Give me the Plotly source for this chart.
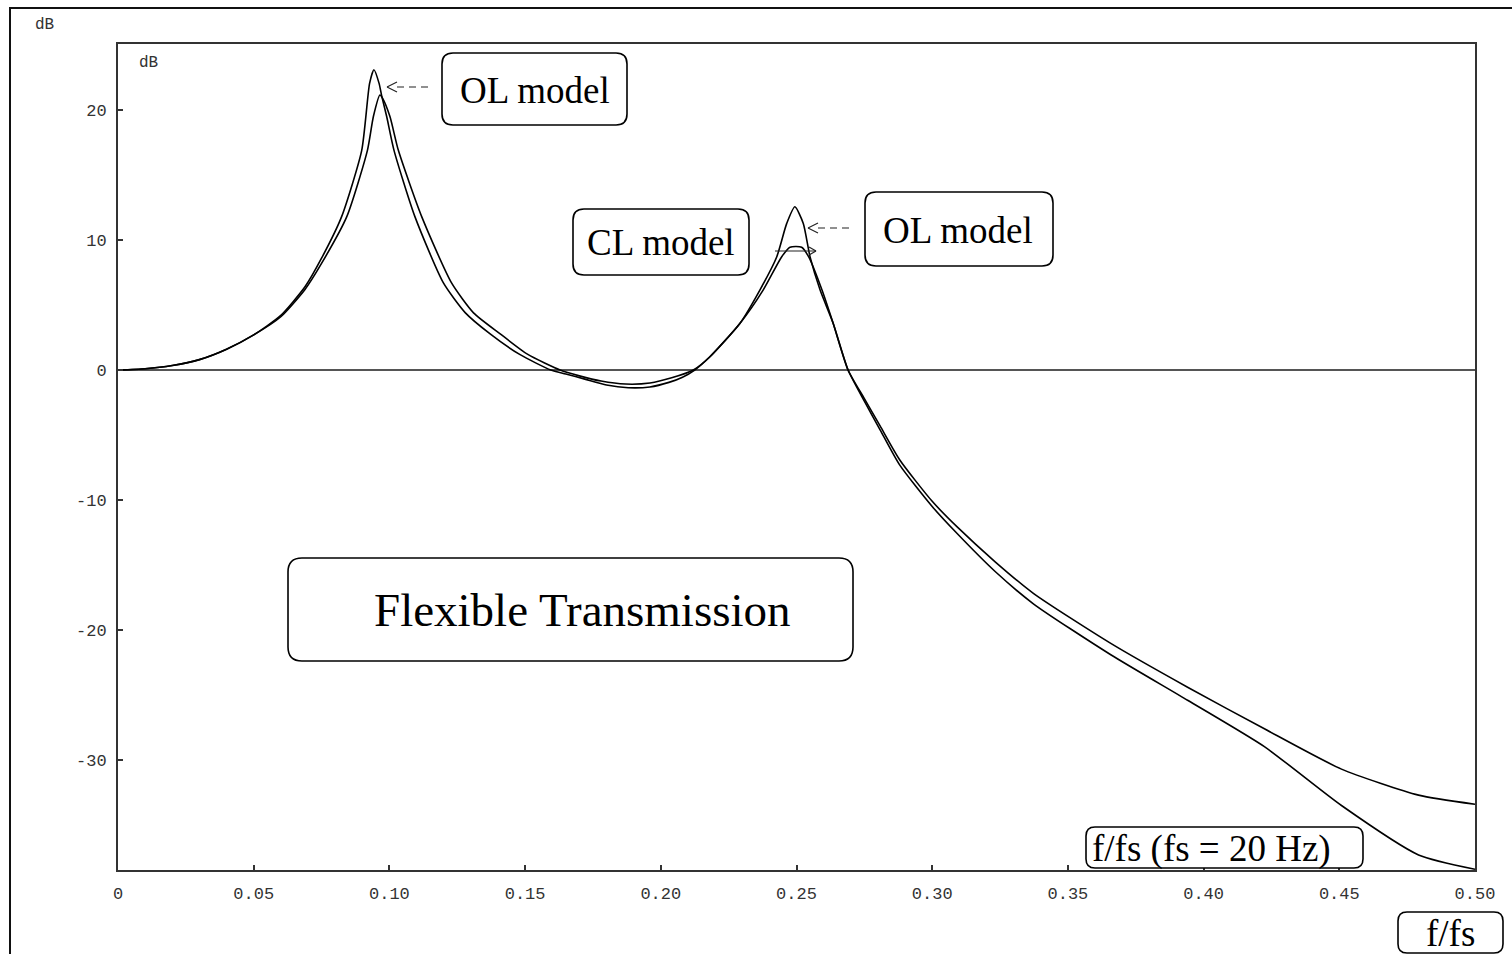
import plotly.graph_objects as go

# Frequency response magnitude of the flexible transmission (normalised frequency f/fs)
ol_freq = [0.0, 0.01, 0.02, 0.03, 0.04, 0.05, 0.06, 0.0689, 0.075, 0.0824, 0.0898,
           0.0927, 0.0943, 0.0962, 0.0971, 0.099, 0.1017, 0.1094, 0.1199, 0.128, 0.137,
           0.148, 0.1595, 0.165, 0.172, 0.18, 0.188, 0.196, 0.203, 0.208, 0.2125,
           0.218, 0.2292, 0.2365, 0.2427, 0.2464, 0.2494, 0.2525, 0.255, 0.2587,
           0.2635, 0.269, 0.275, 0.2808, 0.288, 0.30, 0.3091, 0.3232, 0.3374, 0.3658,
           0.3941, 0.4224, 0.4508, 0.4792, 0.5]
ol_db = [0.0, 0.1, 0.35, 0.8, 1.6, 2.7, 4.2, 6.4, 8.6, 11.8, 16.9,
         22.05, 23.1, 22.05, 21.15, 19.5, 16.9, 11.8, 6.7, 4.4, 2.8,
         1.2, 0.0, -0.3, -0.7, -1.15, -1.36, -1.3, -0.95, -0.55, 0.0,
         1.0, 3.6, 6.15, 8.7, 11.28, 12.56, 11.28, 8.7, 6.15,
         3.6, 0.0, -2.4, -4.6, -7.3, -10.5, -12.56, -15.5, -18.0, -21.9,
         -25.4, -28.97, -33.5, -37.3, -38.4]

cl_freq = [0.0, 0.01, 0.02, 0.03, 0.04, 0.05, 0.06, 0.0689, 0.075, 0.0843, 0.0919,
           0.0941, 0.0965, 0.0975, 0.1002, 0.1033, 0.1119, 0.1229, 0.131, 0.1407,
           0.151, 0.1629, 0.17, 0.178, 0.187, 0.196, 0.204, 0.212,
           0.218, 0.2292, 0.2377, 0.2445, 0.2476, 0.2519, 0.2545, 0.2594,
           0.2635, 0.269, 0.275, 0.2808, 0.288, 0.30, 0.3091, 0.3232, 0.3374, 0.3658,
           0.3941, 0.4224, 0.4508, 0.4792, 0.5]
cl_db = [0.0, 0.1, 0.35, 0.8, 1.6, 2.7, 4.1, 6.2, 8.2, 11.8, 16.9,
         19.5, 21.15, 20.9, 19.5, 16.9, 11.8, 6.7, 4.4, 2.8,
         1.2, 0.0, -0.45, -0.85, -1.08, -1.0, -0.6, 0.0,
         1.0, 3.6, 6.15, 8.7, 9.45, 9.45, 8.7, 6.15,
         3.6, 0.0, -2.2, -4.3, -6.9, -10.1, -12.05, -14.75, -17.2, -21.03,
         -24.4, -27.6, -30.7, -32.7, -33.4]

x_ticks = [0, 0.05, 0.10, 0.15, 0.20, 0.25, 0.30, 0.35, 0.40, 0.45, 0.50]
x_tick_text = ["0", "0.05", "0.10", "0.15", "0.20", "0.25", "0.30", "0.35", "0.40", "0.45", "0.50"]
y_ticks = [-30, -20, -10, 0, 10, 20]
y_tick_text = ["-30", "-20", "-10", "0", "10", "20"]

W, H = 1512, 954
L, R, T, B = 118, 1475, 44, 870  # plot box in pixels

def px(x):
    return (x - L) / (R - L)

def py(y):
    return 1 - (y - T) / (B - T)

def rounded_box(x0, y0, x1, y1, r=11):
    pts = [("M", x0 + r, y0), ("L", x1 - r, y0), ("Q", x1, y0, x1, y0 + r),
           ("L", x1, y1 - r), ("Q", x1, y1, x1 - r, y1), ("L", x0 + r, y1),
           ("Q", x0, y1, x0, y1 - r), ("L", x0, y0 + r), ("Q", x0, y0, x0 + r, y0)]
    parts = []
    for p in pts:
        cmd, coords = p[0], p[1:]
        xy = []
        for i in range(0, len(coords), 2):
            xy.append(f"{px(coords[i]):.5f},{py(coords[i + 1]):.5f}")
        parts.append(cmd + " " + " ".join(xy))
    return dict(type="path", xref="paper", yref="paper", path=" ".join(parts) + " Z",
                line=dict(color="black", width=1.6), fillcolor="white", layer="above")

def seg(x0, y0, x1, y1, dash="solid", width=1.2):
    return dict(type="line", xref="paper", yref="paper",
                x0=px(x0), y0=py(y0), x1=px(x1), y1=py(y1),
                line=dict(color="#222", width=width, dash=dash), layer="above")

fig = go.Figure()
curve_line = dict(color="black", width=1.6, shape="spline", smoothing=0.6)
fig.add_trace(go.Scatter(x=ol_freq, y=ol_db, mode="lines", name="OL model", line=curve_line))
fig.add_trace(go.Scatter(x=cl_freq, y=cl_db, mode="lines", name="CL model", line=curve_line))

serif = "Liberation Serif, Times New Roman, serif"
mono = "Liberation Mono, Courier New, monospace"

shapes = [
    # outer frame
    dict(type="rect", xref="paper", yref="paper", x0=px(10), y0=py(8), x1=px(1530), y1=py(980),
         line=dict(color="#111", width=2), fillcolor="rgba(0,0,0,0)", layer="below"),
    rounded_box(442, 53, 627, 125),
    rounded_box(573, 209, 749, 275),
    rounded_box(865, 192, 1053, 266),
    rounded_box(288, 558, 853, 661, r=14),
    rounded_box(1086, 827, 1363, 868, r=9),
    rounded_box(1398, 912, 1503, 953, r=9),
    # "<--" pointer to the first OL peak
    seg(397, 87, 430, 87, dash="7px,5px"),
    seg(387, 87, 397, 82), seg(387, 87, 397, 92),
    # "<--" pointer to the second OL peak
    seg(818, 228, 852, 228, dash="7px,5px"),
    seg(808, 228, 818, 223), seg(808, 228, 818, 233),
    # CL peak marker
    seg(775, 251, 816, 251),
    seg(816, 251, 809, 247), seg(816, 251, 809, 255),
]

annotations = [
    dict(text="OL model", x=px(535), y=py(90)),
    dict(text="CL model", x=px(661), y=py(243)),
    dict(text="OL model", x=px(958), y=py(230)),
    dict(text="Flexible Transmission", x=px(582), y=py(610), size=47),
    dict(text="f/fs (fs = 20 Hz)", x=px(1211), y=py(849)),
    dict(text="f/fs", x=px(1450), y=py(934)),
]
ann = []
for a in annotations:
    ann.append(dict(text=a["text"], x=a["x"], y=a["y"], xref="paper", yref="paper",
                    xanchor="center", yanchor="middle", showarrow=False,
                    font=dict(family=serif, size=a.get("size", 37), color="black")))
ann.append(dict(text="dB", x=px(148), y=py(63), xref="paper", yref="paper",
                xanchor="center", yanchor="middle", showarrow=False,
                font=dict(family=mono, size=16, color="#333")))
ann.append(dict(text="dB", x=px(44), y=py(25), xref="paper", yref="paper",
                xanchor="center", yanchor="middle", showarrow=False,
                font=dict(family=mono, size=16, color="#333")))

axis_common = dict(showline=True, mirror=True, linecolor="#333", linewidth=2,
                   ticks="inside", ticklen=5, tickwidth=1.5, tickcolor="#333",
                   showgrid=False, tickfont=dict(family=mono, size=17, color="#333"))

fig.update_layout(
    width=W, height=H,
    margin=dict(l=L, r=W - R, t=T, b=H - B),
    paper_bgcolor="white", plot_bgcolor="white",
    showlegend=False,
    shapes=shapes,
    annotations=ann,
    xaxis=dict(range=[0, 0.5], tickmode="array", tickvals=x_ticks, ticktext=x_tick_text,
               zeroline=False, ticklabelstandoff=7, **axis_common),
    yaxis=dict(range=[-38.46, 25.08], tickmode="array", tickvals=y_ticks, ticktext=y_tick_text,
               zeroline=True, zerolinecolor="#555", zerolinewidth=2,
               ticklabelstandoff=6, **axis_common),
)

fig.write_html("out.html")
